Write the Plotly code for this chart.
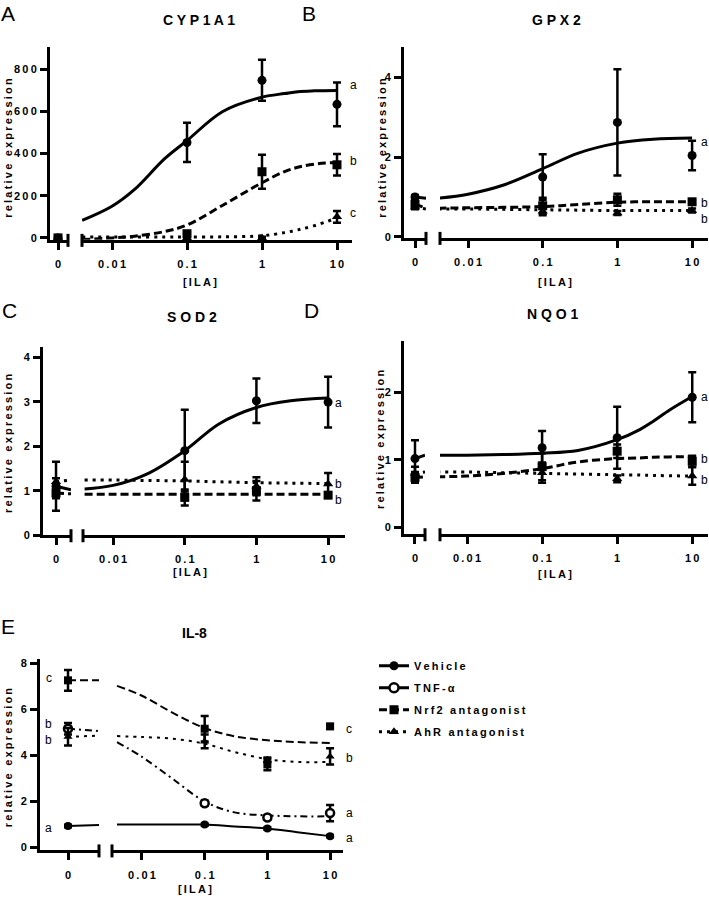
import plotly.graph_objects as go

W, H = 709, 903
FONT = "Liberation Sans, Arial, Helvetica, sans-serif"
TS = "\u2009"   # thin space used for the letter-spaced GraphPad look


def spaced(s, sep=TS):
    return sep.join(list(s))


# ------------------------------------------------------------------ data
conc = [0.1, 1, 10]                      # ILA concentrations (log segment)
log_ticks = [0.01, 0.1, 1, 10]
log_tick_labels = ["0.01", "0.1", "1", "10"]
zero_label = "0"
series_names = ["Vehicle", "TNF-\u03b1", "Nrf2 antagonist", "AhR antagonist"]

# --- A  CYP1A1  (first value of each list = 0 dose)
cyp_vehicle = [0, 453, 748, 634]
cyp_vehicle_err = [10, 93, 97, 104]
cyp_nrf2 = [0, 20, 314, 347]
cyp_nrf2_err = [8, 8, 81, 51]
cyp_ahr = [0, 0, 0, 100]
cyp_ahr_err = [5, 5, 5, 28]
cyp_fit_x = [0.004, 0.01, 0.02, 0.05, 0.1, 0.3, 1, 2, 3, 5, 10]
cyp_fit_vehicle = [83, 150, 230, 375, 462, 600, 668, 685, 694, 698, 700]
cyp_fit_nrf2 = [-8, 0, 8, 30, 61, 155, 262, 315, 335, 350, 358]
cyp_fit_ahr = [4, 4, 4, 4, 4, 5, 10, 25, 38, 58, 95]
cyp_zero_line = [None, None, None]
cyp_yticks = [0, 200, 400, 600, 800]
cyp_letters = ["a", "b", "c"]
cyp_letter_y = [728, 367, 119]

# --- B  GPX2
gpx_vehicle = [1.0, 1.5, 2.87, 2.04]
gpx_vehicle_err = [0.05, 0.57, 1.33, 0.37]
gpx_nrf2 = [0.82, 0.78, 0.93, 0.88]
gpx_nrf2_err = [0.08, 0.2, 0.15, 0.05]
gpx_ahr = [0.74, 0.64, 0.6, 0.66]
gpx_ahr_err = [0.05, 0.1, 0.05, 0.05]
gpx_fit_x = [0.004, 0.01, 0.03, 0.1, 0.3, 1, 3, 10]
gpx_fit_vehicle = [0.97, 1.07, 1.3, 1.71, 2.1, 2.35, 2.45, 2.48]
gpx_fit_nrf2 = [0.72, 0.73, 0.74, 0.76, 0.81, 0.87, 0.88, 0.88]
gpx_fit_ahr = [0.7, 0.7, 0.69, 0.68, 0.67, 0.66, 0.66, 0.66]
gpx_zero_line = [0.97, 0.72, 0.70]
gpx_yticks = [0, 2, 4]
gpx_letters = ["a", "b", "b"]
gpx_letter_y = [2.37, 0.86, 0.46]

# --- C  SOD2
sod_vehicle = [1.1, 1.9, 3.02, 2.99]
sod_vehicle_err = [0.55, 0.92, 0.5, 0.57]
sod_nrf2 = [0.95, 0.85, 1.0, 0.9]
sod_nrf2_err = [0.12, 0.18, 0.22, 0.06]
sod_ahr = [1.2, 1.25, 1.1, 1.15]
sod_ahr_err = [0.08, 0.4, 0.2, 0.25]
sod_fit_x = [0.004, 0.01, 0.03, 0.1, 0.3, 1, 3, 10]
sod_fit_vehicle = [1.04, 1.12, 1.38, 1.9, 2.5, 2.87, 3.02, 3.08]
sod_fit_nrf2 = [0.92, 0.92, 0.92, 0.92, 0.92, 0.92, 0.92, 0.92]
sod_fit_ahr = [1.24, 1.24, 1.23, 1.22, 1.2, 1.18, 1.17, 1.16]
sod_zero_line = [1.02, 0.93, 1.24]
sod_yticks = [0, 1, 2, 3, 4]
sod_letters = ["a", "b", "b"]
sod_letter_y = [2.98, 1.15, 0.80]

# --- D  NQO1
nqo_vehicle = [1.02, 1.18, 1.33, 1.93]
nqo_vehicle_err = [0.27, 0.25, 0.46, 0.37]
nqo_nrf2 = [0.74, 0.9, 1.13, 0.98]
nqo_nrf2_err = [0.08, 0.2, 0.1, 0.08]
nqo_ahr = [0.8, 0.81, 0.72, 0.76]
nqo_ahr_err = [0.1, 0.15, 0.05, 0.13]
nqo_fit_x = [0.004, 0.01, 0.03, 0.1, 0.3, 1, 2, 3, 5, 10]
nqo_fit_vehicle = [1.07, 1.07, 1.08, 1.1, 1.14, 1.30, 1.45, 1.57, 1.74, 1.94]
nqo_fit_nrf2 = [0.75, 0.76, 0.8, 0.87, 0.97, 1.02, 1.03, 1.04, 1.045, 1.05]
nqo_fit_ahr = [0.82, 0.82, 0.81, 0.8, 0.79, 0.78, 0.775, 0.77, 0.765, 0.76]
nqo_zero_line = [1.07, 0.75, 0.82]
nqo_yticks = [0, 1, 2]
nqo_letters = ["a", "b", "b"]
nqo_letter_y = [1.94, 1.01, 0.70]

# --- E  IL-8
il8_vehicle = [0.93, 0.99, 0.82, 0.49]
il8_vehicle_err = [0.05, 0.05, 0.05, 0.05]
il8_tnf = [5.15, 1.92, 1.30, 1.49]
il8_tnf_err = [0.25, 0.1, 0.08, 0.35]
il8_nrf2 = [7.25, 5.15, 3.6, 5.25]
il8_nrf2_err = [0.45, 0.55, 0.25, 0.1]
il8_ahr = [4.8, 4.6, 3.8, 3.95]
il8_ahr_err = [0.38, 0.3, 0.1, 0.35]
il8_fit_x = [0.004, 0.01, 0.03, 0.1, 0.3, 1, 3, 10]
il8_fit_vehicle = [0.99, 0.99, 0.99, 0.99, 0.91, 0.82, 0.66, 0.49]
il8_fit_tnf = [4.57, 3.93, 3.0, 1.99, 1.52, 1.39, 1.35, 1.35]
il8_fit_nrf2 = [7.01, 6.58, 5.86, 5.18, 4.82, 4.65, 4.57, 4.53]
il8_fit_ahr = [4.83, 4.79, 4.72, 4.5, 4.14, 3.83, 3.71, 3.71]
il8_zero_line = [0.97, 5.05, 7.25, 4.85]
il8_yticks = [0, 2, 4, 6, 8]
il8_letters_right = ["c", "b", "a", "a"]
il8_letter_right_y = [5.12, 3.86, 1.49, 0.39]
il8_letters_left = ["c", "b", "b", "a"]
il8_letters_left_y = [7.37, 5.36, 4.65, 0.85]

# ------------------------------------------------------------------ styles
STYLE = {
    "Vehicle": dict(dash="solid", symbol="circle", fill="black"),
    "TNF": dict(dash="7px,4px,2px,4px", symbol="circle", fill="white"),
    "Nrf2": dict(dash="8px,4px", symbol="square", fill="black"),
    "AhR": dict(dash="3px,5px", symbol="triangle-up", fill="black"),
}

panels = [
    dict(letter="A", title=spaced("CYP1A1", " "), yx=50, top=45, bot=240, lend=68,
         rstart=82, rend=352, yr=[-9.4, 908], lr=[-1, 1.25], logr=[-2.4, 1.2],
         yticks=cyp_yticks, lw=3, ms=9,
         series=[("Vehicle", cyp_vehicle, cyp_vehicle_err, cyp_fit_vehicle),
                 ("Nrf2", cyp_nrf2, cyp_nrf2_err, cyp_fit_nrf2),
                 ("AhR", cyp_ahr, cyp_ahr_err, cyp_fit_ahr)],
         fit_x=cyp_fit_x, zero_line=cyp_zero_line,
         letters=cyp_letters, letter_y=cyp_letter_y, lshift=11,
         letter_pos=(8, 12), title_pos=(199, 18), xt_pos=(200, 283), yt_pos=(8, 147)),
    dict(letter="B", title=spaced("GPX2", " "), yx=404, top=45, bot=238, lend=426,
         rstart=440, rend=708, yr=[-0.025, 4.77], lr=[-1, 1], logr=[-2.375, 1.213],
         yticks=gpx_yticks, lw=3, ms=9,
         series=[("Vehicle", gpx_vehicle, gpx_vehicle_err, gpx_fit_vehicle),
                 ("Nrf2", gpx_nrf2, gpx_nrf2_err, gpx_fit_nrf2),
                 ("AhR", gpx_ahr, gpx_ahr_err, gpx_fit_ahr)],
         fit_x=gpx_fit_x, zero_line=gpx_zero_line,
         letters=gpx_letters, letter_y=gpx_letter_y, lshift=7,
         letter_pos=(309, 12), title_pos=(556, 18), xt_pos=(555, 283), yt_pos=(382, 147)),
    dict(letter="C", title=spaced("SOD2", " "), yx=43, top=348, bot=538, lend=71,
         rstart=83, rend=345, yr=[0, 4.23], lr=[-1, 1.15], logr=[-2.42, 1.236],
         yticks=sod_yticks, lw=3, ms=9,
         series=[("Vehicle", sod_vehicle, sod_vehicle_err, sod_fit_vehicle),
                 ("Nrf2", sod_nrf2, sod_nrf2_err, sod_fit_nrf2),
                 ("AhR", sod_ahr, sod_ahr_err, sod_fit_ahr)],
         fit_x=sod_fit_x, zero_line=sod_zero_line,
         letters=sod_letters, letter_y=sod_letter_y, lshift=5,
         letter_pos=(9, 311), title_pos=(192, 318), xt_pos=(190, 575), yt_pos=(8, 445)),
    dict(letter="D", title=spaced("NQO1", " "), yx=404, top=342, bot=537, lend=425,
         rstart=440, rend=708, yr=[-0.103, 2.765], lr=[-1, 0.91], logr=[-2.36, 1.21],
         yticks=nqo_yticks, lw=3, ms=9,
         series=[("Vehicle", nqo_vehicle, nqo_vehicle_err, nqo_fit_vehicle),
                 ("Nrf2", nqo_nrf2, nqo_nrf2_err, nqo_fit_nrf2),
                 ("AhR", nqo_ahr, nqo_ahr_err, nqo_fit_ahr)],
         fit_x=nqo_fit_x, zero_line=nqo_zero_line,
         letters=nqo_letters, letter_y=nqo_letter_y, lshift=7,
         letter_pos=(311, 311), title_pos=(553, 315), xt_pos=(555, 577), yt_pos=(380, 441)),
    dict(letter="E", title="IL-8", yx=40, top=663, bot=856, lend=99,
         rstart=112, rend=343, yr=[-0.13, 8.17], lr=[-1, 1.107], logr=[-2.478, 1.206],
         yticks=il8_yticks, lw=2, ms=8,
         series=[("Vehicle", il8_vehicle, il8_vehicle_err, il8_fit_vehicle),
                 ("TNF", il8_tnf, il8_tnf_err, il8_fit_tnf),
                 ("Nrf2", il8_nrf2, il8_nrf2_err, il8_fit_nrf2),
                 ("AhR", il8_ahr, il8_ahr_err, il8_fit_ahr)],
         fit_x=il8_fit_x, zero_line=il8_zero_line,
         letters=il8_letters_right, letter_y=il8_letter_right_y, lshift=14,
         letters_left=il8_letters_left, letters_left_y=il8_letters_left_y,
         letter_pos=(8, 630), title_pos=(194, 637), xt_pos=(195, 895), yt_pos=(8, 762)),
]


def xid(n):
    return "x" if n == 1 else f"x{n}"


def yid(n):
    return "y" if n == 1 else f"y{n}"


def xkey(n):
    return "xaxis" if n == 1 else f"xaxis{n}"


def ykey(n):
    return "yaxis" if n == 1 else f"yaxis{n}"


def fx(px):
    return px / W


def fy(py):
    return 1 - py / H


fig = go.Figure()
layout = {}
annotations = []
shapes = []
tickfont = dict(family=FONT, size=11, color="black", weight="bold")

for i, p in enumerate(panels):
    xl, xr, yy = 2 * i + 1, 2 * i + 2, i + 1
    axis_common = dict(showline=True, linewidth=3, linecolor="black", ticks="outside",
                       ticklen=7, tickwidth=3, tickcolor="black", showgrid=False,
                       zeroline=False, tickfont=tickfont, fixedrange=True)
    layout[xkey(xl)] = dict(domain=[fx(p["yx"]), fx(p["lend"])], range=p["lr"],
                            anchor=yid(yy), tickmode="array", tickvals=[0],
                            ticktext=[zero_label], ticklabelstandoff=5, **axis_common)
    layout[xkey(xr)] = dict(domain=[fx(p["rstart"]), fx(p["rend"])], type="log",
                            range=p["logr"], anchor=yid(yy), tickmode="array",
                            tickvals=log_ticks,
                            ticktext=[spaced(t) for t in log_tick_labels],
                            ticklabelstandoff=5, **axis_common)
    layout[ykey(yy)] = dict(domain=[fy(p["bot"]), fy(p["top"])], range=p["yr"],
                            anchor=xid(xl), tickmode="array", tickvals=p["yticks"],
                            ticktext=[spaced(str(t)) for t in p["yticks"]],
                            ticklabelstandoff=1, **axis_common)

    # break marks of the axis
    for ref, xpos in ((f"{xid(xl)} domain", 1), (f"{xid(xr)} domain", 0)):
        shapes.append(dict(type="line", xref=ref, x0=xpos, x1=xpos,
                           yref=f"{yid(yy)} domain", ysizemode="pixel", yanchor=0,
                           y0=-7, y1=6, line=dict(color="black", width=3)))

    lw, ms = p["lw"], p["ms"]
    for k, (name, vals, errs, fit) in enumerate(p["series"]):
        st = STYLE[name]
        fig.add_trace(go.Scatter(x=p["fit_x"], y=fit, mode="lines",
                                 line=dict(color="black", width=lw, dash=st["dash"],
                                           shape="spline", smoothing=1.0),
                                 xaxis=xid(xr), yaxis=yid(yy), showlegend=False,
                                 hoverinfo="skip"))
        zl = p["zero_line"][k]
        if zl is not None:
            fig.add_trace(go.Scatter(x=[0, p["lr"][1]], y=[vals[0], zl], mode="lines",
                                     line=dict(color="black", width=lw, dash=st["dash"]),
                                     xaxis=xid(xl), yaxis=yid(yy), showlegend=False,
                                     hoverinfo="skip"))
        marker = dict(symbol=st["symbol"], size=ms, color=st["fill"],
                      line=dict(color="black", width=2.5 if st["fill"] == "white" else 0))
        err_style = dict(type="data", color="black", thickness=2.5, width=4)
        fig.add_trace(go.Scatter(x=[0], y=[vals[0]], mode="markers", marker=marker,
                                 error_y=dict(array=[errs[0]], **err_style),
                                 xaxis=xid(xl), yaxis=yid(yy), showlegend=False,
                                 cliponaxis=False))
        fig.add_trace(go.Scatter(x=conc, y=vals[1:], mode="markers", marker=marker,
                                 error_y=dict(array=errs[1:], **err_style),
                                 xaxis=xid(xr), yaxis=yid(yy), showlegend=False,
                                 cliponaxis=False))

    for t, yv in zip(p["letters"], p["letter_y"]):
        annotations.append(dict(text=t, x=1, y=yv, xref=xid(xr), yref=yid(yy),
                                xanchor="left", yanchor="middle", xshift=p["lshift"],
                                showarrow=False,
                                font=dict(family=FONT, size=12, color="black")))
    if "letters_left" in p:
        for t, yv in zip(p["letters_left"], p["letters_left_y"]):
            annotations.append(dict(text=t, x=0, y=yv, xref=xid(xl), yref=yid(yy),
                                    xanchor="right", yanchor="middle", xshift=-14,
                                    showarrow=False,
                                    font=dict(family=FONT, size=12, color="black")))

    lx, ly = p["letter_pos"]
    annotations.append(dict(text=p["letter"], x=fx(lx), y=fy(ly), xref="paper",
                            yref="paper", xanchor="center", yanchor="middle",
                            showarrow=False, font=dict(family=FONT, size=21, color="black")))
    tx, ty = p["title_pos"]
    annotations.append(dict(text=p["title"], x=fx(tx), y=fy(ty), xref="paper",
                            yref="paper", xanchor="center", yanchor="middle",
                            showarrow=False,
                            font=dict(family=FONT, size=14, color="black", weight="bold")))
    ax_, ay_ = p["xt_pos"]
    annotations.append(dict(text=spaced("[ILA]"), x=fx(ax_), y=fy(ay_), xref="paper",
                            yref="paper", xanchor="center", yanchor="middle",
                            showarrow=False,
                            font=dict(family=FONT, size=11, color="black", weight="bold")))
    yx_, yy_ = p["yt_pos"]
    annotations.append(dict(text=spaced("relative expression"), x=fx(yx_), y=fy(yy_),
                            xref="paper", yref="paper", xanchor="center",
                            yanchor="middle", textangle=-90, showarrow=False,
                            font=dict(family=FONT, size=11, color="black", weight="bold")))

leg_styles = [("Vehicle", series_names[0]), ("TNF", series_names[1]),
              ("Nrf2", series_names[2]), ("AhR", series_names[3])]
for key, label in leg_styles:
    st = STYLE[key]
    fig.add_trace(go.Scatter(x=[None], y=[None], mode="lines+markers", name=spaced(label),
                             legendgroup=key,
                             line=dict(color="black", width=3,
                                       dash="solid" if key in ("Vehicle", "TNF") else st["dash"]),
                             marker=dict(symbol=st["symbol"], size=9, color=st["fill"],
                                         line=dict(color="black",
                                                   width=2.5 if st["fill"] == "white" else 0)),
                             xaxis="x10", yaxis="y5", showlegend=True))

fig.update_layout(
    width=W, height=H, margin=dict(l=0, r=0, t=0, b=0),
    paper_bgcolor="white", plot_bgcolor="white",
    font=dict(family=FONT, color="black"),
    annotations=annotations, shapes=shapes,
    legend=dict(x=fx(374), y=fy(655), xanchor="left", yanchor="top",
                font=dict(family=FONT, size=11, color="black", weight="bold"),
                bgcolor="rgba(0,0,0,0)", tracegroupgap=3, itemwidth=30),
    **layout,
)

fig.write_html("out.html",
               config={"displayModeBar": False, "staticPlot": True},
               post_script="document.body.style.margin='0px';"
                           "document.body.style.overflow='hidden';")
